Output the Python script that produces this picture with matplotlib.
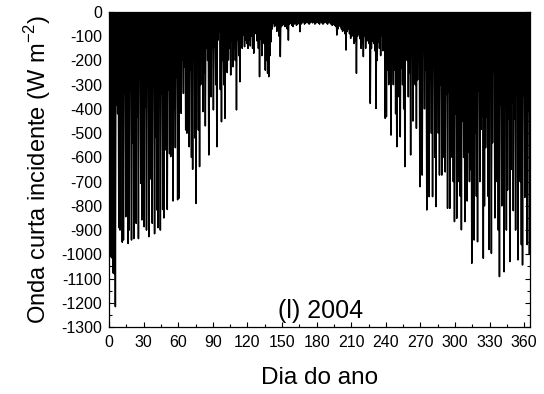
import matplotlib
matplotlib.use("Agg")
import matplotlib.pyplot as plt
import numpy as np
from matplotlib.ticker import MultipleLocator

plt.rcParams['font.family'] = ['Liberation Sans', 'DejaVu Sans']
plt.rcParams['axes.unicode_minus'] = False

# daily minimum of incident shortwave (W m-2), days 1..366
daily_min = [
    -1010, -1010, -1015, -1077, -1080, -1216, -384, -420, -890, -900, -260, -950, -941, -336, -845,
    -404, -955, -900, -322, -941, -542, -935, -240, -872, -432, -935, -281, -707, -858, -377,
    -886, -391, -900, -308, -927, -556, -690, -872, -308, -915, -515, -817, -890, -233, -900,
    -336, -815, -850, -240, -570, -815, -320, -585, -597, -250, -780, -400, -560, -270, -775,
    -769, -240, -418, -198, -336, -226, -487, -500, -143, -556, -240, -600, -649, -143, -520,
    -790, -81, -487, -638, -300, -61, -411, -250, -470, -150, -200, -590, -198, -350, -150,
    -404, -143, -300, -556, -116, -81, -320, -453, -200, -300, -439, -116, -250, -198, -150,
    -260, -120, -226, -150, -200, -404, -116, -180, -288, -81, -150, -95, -143, -115, -130,
    -150, -116, -140, -100, -150, -170, -90, -80, -120, -150, -267, -110, -180, -90, -130,
    -240, -200, -253, -267, -180, -123, -70, -47, -60, -55, -80, -65, -100, -184, -60,
    -55, -50, -60, -45, -70, -116, -50, -45, -55, -60, -50, -45, -55, -50, -45,
    -81, -50, -45, -40, -50, -45, -40, -45, -50, -45, -40, -45, -40, -50, -45,
    -40, -45, -50, -40, -45, -50, -45, -40, -45, -50, -40, -45, -50, -55, -50,
    -55, -60, -95, -70, -55, -60, -70, -80, -75, -90, -157, -80, -70, -90, -109,
    -100, -90, -130, -120, -253, -100, -90, -110, -150, -130, -184, -100, -150, -120, -110,
    -130, -377, -150, -120, -130, -160, -398, -200, -125, -150, -180, -100, -160, -140, -439,
    -432, -240, -300, -150, -508, -170, -300, -240, -420, -556, -180, -350, -515, -230, -300,
    -400, -638, -102, -200, -350, -250, -590, -184, -450, -250, -300, -480, -280, -200, -721,
    -290, -673, -123, -400, -240, -817, -300, -762, -280, -500, -762, -198, -600, -803, -230,
    -500, -673, -300, -673, -322, -600, -660, -340, -810, -330, -810, -315, -600, -700, -865,
    -420, -851, -316, -700, -760, -899, -450, -600, -865, -440, -780, -579, -700, -650, -1037,
    -530, -941, -500, -760, -948, -325, -700, -485, -433, -1016, -800, -560, -433, -760, -980,
    -325, -996, -540, -248, -850, -305, -700, -900, -1092, -385, -800, -500, -1072, -385, -900,
    -735, -440, -1030, -650, -375, -820, -440, -900, -345, -1023, -330, -700, -960, -1044, -345,
    -765, -207, -960, -410, -1000, -520,
]

x_ticks = [0, 30, 60, 90, 120, 150, 180, 210, 240, 270, 300, 330, 360]
y_ticks = list(range(-1300, 1, 100))

# each day: night at 0, midday at the daily minimum
mins = np.array(daily_min, dtype=float)
n = len(mins)
xs = np.arange(0, n + 0.25, 0.5)
ys = np.zeros(len(xs))
ys[1::2] = mins

fig = plt.figure(figsize=(5.44, 3.94), dpi=100)
ax = fig.add_axes([0.2004, 0.170, 0.7739, 0.7995])
ax.plot(xs, ys, color='black', linewidth=1.1)

ax.set_xlim(0, 365)
ax.set_ylim(-1300, 0)
ax.set_xticks(x_ticks)
ax.set_yticks(y_ticks)
ax.xaxis.set_minor_locator(MultipleLocator(15))
ax.yaxis.set_minor_locator(MultipleLocator(50))
ax.tick_params(which='both', direction='in', top=True, right=True, labelsize=11.5, width=0.8)
ax.tick_params(axis='x', which='both', pad=6)
ax.tick_params(axis='y', which='both', pad=5)
ax.tick_params(which='major', length=3.5)
ax.tick_params(which='minor', length=2.5)
for s in ax.spines.values():
    s.set_linewidth(0.9)

ax.set_xlabel('Dia do ano', fontsize=17.5, labelpad=12)
ax.set_ylabel('Onda curta incidente (W m$^{\\mathregular{-2}}$)', fontsize=17, labelpad=6)
ax.text(183, -1232, '(l) 2004', fontsize=18, ha='center', va='center')

fig.savefig('out.png', dpi=100)
